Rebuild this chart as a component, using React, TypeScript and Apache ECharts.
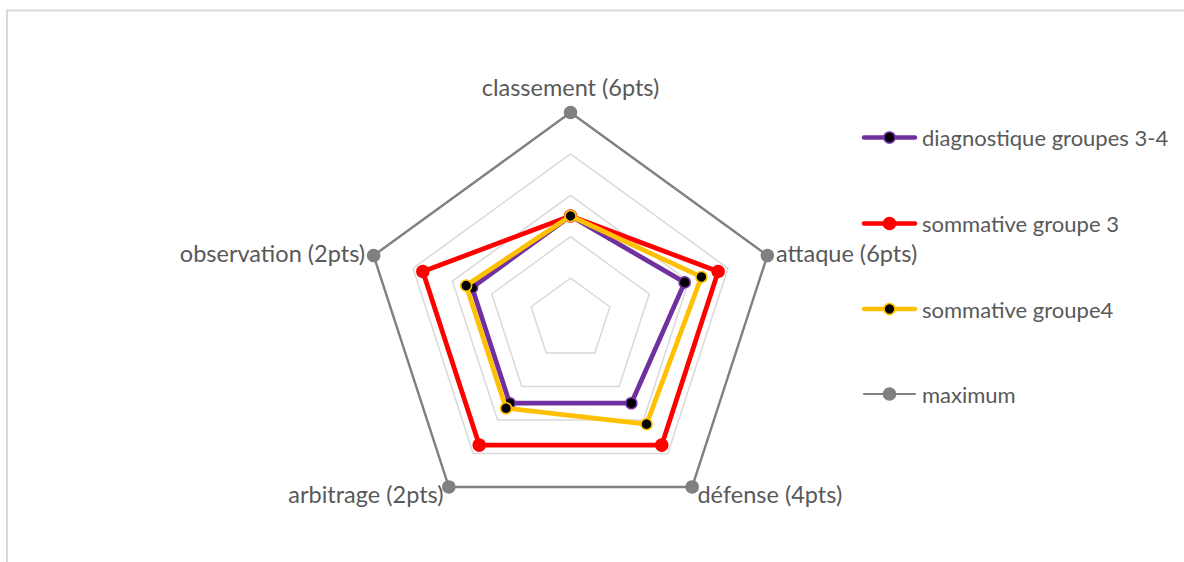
import React, { useEffect, useRef } from 'react';
import * as echarts from 'echarts';

// Indicators in ECharts order (counter-clockwise from the top)
const categories = ['classement (6pts)', 'observation (2pts)', 'arbitrage (2pts)', 'défense (4pts)', 'attaque (6pts)'];
const seriesNames = ['diagnostique groupes 3-4', 'sommative groupe 3', 'sommative groupe4', 'maximum'];
const diagnostique = [0.5, 0.5, 0.5, 0.5, 0.58];
const sommative3 = [0.5, 0.75, 0.75, 0.75, 0.75];
const sommative4 = [0.5, 0.53, 0.53, 0.625, 0.665];
const maximum = [1, 1, 1, 1, 1];
const axisMax = 1;
const seriesValues = [diagnostique, sommative3, sommative4, maximum];

const FONT = 'Lato';
const TEXT = '#595959';
const FS = 22;
const AXIS_FS = 23.5;

const looks = [
  { line: '#7030A0', width: 4.75, fill: '#000000', border: '#7030A0', size: 11 },
  { line: '#FF0000', width: 4.75, fill: '#FF0000', border: '#FF0000', size: 12 },
  { line: '#FFC000', width: 4.75, fill: '#000000', border: '#FFC000', size: 11 },
  { line: '#808080', width: 2.4, fill: '#808080', border: '#808080', size: 12 },
];
const legendCenters = [137.5, 223.5, 309, 394];
const legendLeft = 862;
const legendIconW = 55;
const legendIconH = 30;

export default function App() {
  const ref = useRef<HTMLDivElement>(null);
  useEffect(() => {
    if (!ref.current) return;
    const chart = echarts.init(ref.current, undefined, { renderer: 'svg' });
    const option: any = {
      animation: false,
      backgroundColor: '#ffffff',
      textStyle: { fontFamily: FONT },
      radar: {
        center: [570.5, 319.5],
        radius: 207,
        startAngle: 90,
        shape: 'polygon',
        splitNumber: 5,
        nameGap: 9,
        axisName: {
          color: TEXT,
          fontSize: AXIS_FS,
          fontFamily: FONT,
          formatter: (name: string) => (name === categories[0] ? `{top|${name}}` : name),
          rich: { top: { color: TEXT, fontSize: AXIS_FS, fontFamily: FONT, padding: [0, 0, 5, 0] } },
        },
        indicator: categories.map((name) => ({ name, max: axisMax, min: 0 })),
        axisLine: { show: false },
        axisTick: { show: false },
        axisLabel: { show: false },
        splitArea: { show: false },
        splitLine: { lineStyle: { color: '#d9d9d9', width: 1.5 } },
      },
      legend: seriesNames.map((name, i) => ({
        orient: 'vertical',
        left: legendLeft,
        top: legendCenters[i] - legendIconH / 2,
        padding: 0,
        itemWidth: legendIconW,
        itemHeight: legendIconH,
        itemGap: 0,
        textStyle: { color: TEXT, fontSize: FS, fontFamily: FONT },
        data: [
          {
            name,
            icon: 'rect',
            itemStyle: { color: 'rgba(255,255,255,0)', borderWidth: 0 },
          },
        ],
      })),
      graphic: [
        {
          type: 'rect',
          silent: true,
          shape: { x: 7, y: 10.5, width: 1400, height: 800 },
          style: { fill: 'none', stroke: '#d9d9d9', lineWidth: 2 },
          z: -10,
        },
        ...seriesNames.map((_, i) => ({
          type: 'line',
          silent: true,
          z: 0,
          shape: { x1: legendLeft + 2, y1: legendCenters[i], x2: legendLeft + legendIconW - 2, y2: legendCenters[i] },
          style: { stroke: looks[i].line, lineWidth: looks[i].width - 0.3, lineCap: 'round' },
        })),
        ...seriesNames.map((_, i) => ({
          type: 'circle',
          silent: true,
          z: 1,
          shape: { cx: legendLeft + legendIconW / 2, cy: legendCenters[i], r: looks[i].size / 2 },
          style: { fill: looks[i].fill, stroke: looks[i].border, lineWidth: 1.5 },
        })),
      ],
      series: seriesNames.map((name, i) => ({
        type: 'radar',
        name,
        z: 2 + i,
        symbol: 'circle',
        symbolSize: looks[i].size,
        lineStyle: { color: looks[i].line, width: looks[i].width },
        itemStyle: { color: looks[i].fill, borderColor: looks[i].border, borderWidth: 1.5 },
        data: [{ name, value: seriesValues[i] }],
      })),
    };
    chart.setOption(option);
    return () => chart.dispose();
  }, []);
  return <div ref={ref} style={{ position: 'fixed', left: 0, top: 0, width: 1184, height: 562 }} />;
}
